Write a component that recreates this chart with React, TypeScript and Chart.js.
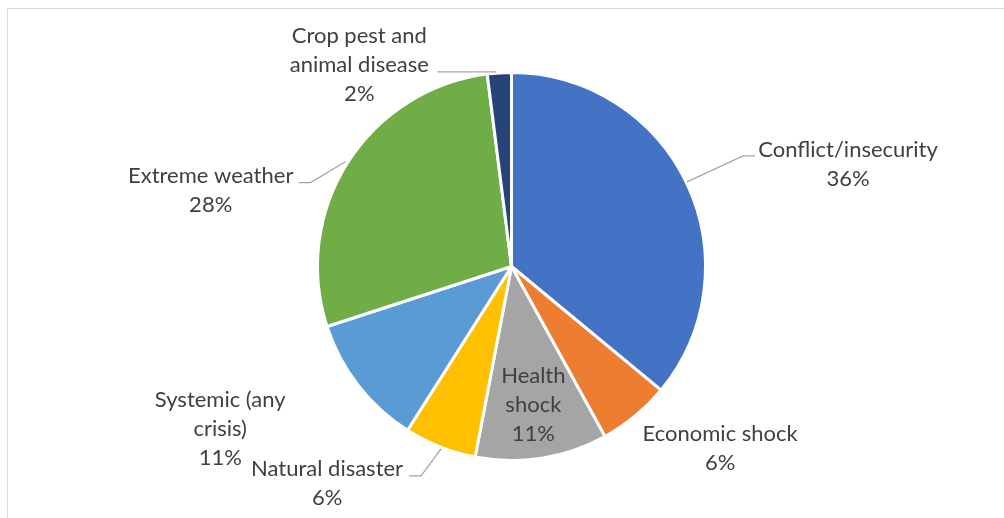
import React, { useEffect, useRef } from "react";
import { Chart, registerables } from "chart.js";

Chart.register(...registerables);

// ---- data ----
const categories = [
  "Conflict/insecurity",
  "Economic shock",
  "Health shock",
  "Natural disaster",
  "Systemic (any crisis)",
  "Extreme weather",
  "Crop pest and animal disease",
];
const values = [36, 6, 11, 6, 11, 28, 2];
const labelLines = [
  ["Conflict/insecurity"],
  ["Economic shock"],
  ["Health", "shock"],
  ["Natural disaster"],
  ["Systemic (any", "crisis)"],
  ["Extreme weather"],
  ["Crop pest and", "animal disease"],
];

// ---- styles ----
const colors = ["#4472C4", "#ED7D31", "#A5A5A5", "#FFC000", "#5B9BD5", "#70AD47", "#264478"];
const FONT = '22px "Lato"';
const LINE_H = 29;
const TEXT_COLOR = "#404040";
const LEADER_COLOR = "#A6A6A6";

type Layout = { inside?: number; dx: number; dy: number; leader?: number[][] };
// label placement relative to the point on each slice's outer edge at its mid-angle
const labelLayout: Layout[] = [
  { dx: 161, dy: -19, leader: [[0, -2], [56, -28], [68, -28]] },
  { dx: 85, dy: 32 },
  { inside: 0.72, dx: 0, dy: 0 },
  { dx: -113, dy: 37, leader: [[1, 2], [-19, 29], [-31, 29]] },
  { dx: -138, dy: 44 },
  { dx: -137, dy: 28, leader: [[-2, -1], [-37, 20], [-49, 20]] },
  { dx: -140, dy: -8, leader: [[-3, -1], [-62, -1]] },
];

const labelPlugin = {
  id: "pieLabels",
  afterDatasetsDraw(chart: any) {
    const ctx = chart.ctx;
    const meta = chart.getDatasetMeta(0);
    const data = chart.data.datasets[0].data as number[];
    const total = data.reduce((a, b) => a + b, 0);
    ctx.save();
    ctx.font = FONT;
    ctx.fillStyle = TEXT_COLOR;
    ctx.textAlign = "center";
    ctx.textBaseline = "middle";
    meta.data.forEach((arc: any, i: number) => {
      const { x, y, startAngle, endAngle, outerRadius } = arc.getProps(
        ["x", "y", "startAngle", "endAngle", "outerRadius"],
        true
      );
      const mid = (startAngle + endAngle) / 2;
      const lay = labelLayout[i];
      const rr = lay.inside ? outerRadius * lay.inside : outerRadius;
      const ex = x + Math.cos(mid) * rr;
      const ey = y + Math.sin(mid) * rr;
      if (lay.leader) {
        ctx.strokeStyle = LEADER_COLOR;
        ctx.lineWidth = 1.3;
        ctx.beginPath();
        lay.leader.forEach((p, k) => {
          if (k === 0) ctx.moveTo(ex + p[0], ey + p[1]);
          else ctx.lineTo(ex + p[0], ey + p[1]);
        });
        ctx.stroke();
      }
      const pct = Math.round((data[i] / total) * 100) + "%";
      const lines = [...labelLines[i], pct];
      const cx = ex + lay.dx;
      const cy = ey + lay.dy;
      lines.forEach((t, k) => {
        ctx.fillText(t, cx, cy + (k - (lines.length - 1) / 2) * LINE_H);
      });
    });
    ctx.restore();
  },
};

export default function App() {
  const ref = useRef<HTMLCanvasElement>(null);
  useEffect(() => {
    if (!ref.current) return;
    const chart = new Chart(ref.current, {
      type: "pie",
      data: {
        labels: categories,
        datasets: [
          {
            data: values,
            backgroundColor: colors,
            borderColor: "#FFFFFF",
            borderWidth: 3,
          },
        ],
      },
      options: {
        responsive: false,
        animation: false,
        layout: { padding: { left: 316, right: 297, top: 71, bottom: 56 } },
        plugins: {
          legend: { display: false },
          tooltip: { enabled: false },
        },
      },
      plugins: [labelPlugin],
    });
    return () => chart.destroy();
  }, []);

  return (
    <div
      style={{
        position: "fixed",
        left: 0,
        top: 0,
        width: 1004,
        height: 518,
        overflow: "hidden",
        background: "#FFFFFF",
      }}
    >
      <div
        style={{
          position: "absolute",
          left: 7,
          top: 8,
          width: 1100,
          height: 600,
          border: "1px solid #D9D9D9",
          boxSizing: "border-box",
        }}
      />
      <canvas
        ref={ref}
        width={1004}
        height={518}
        style={{ position: "absolute", left: 0, top: 0, width: 1004, height: 518 }}
      />
    </div>
  );
}
